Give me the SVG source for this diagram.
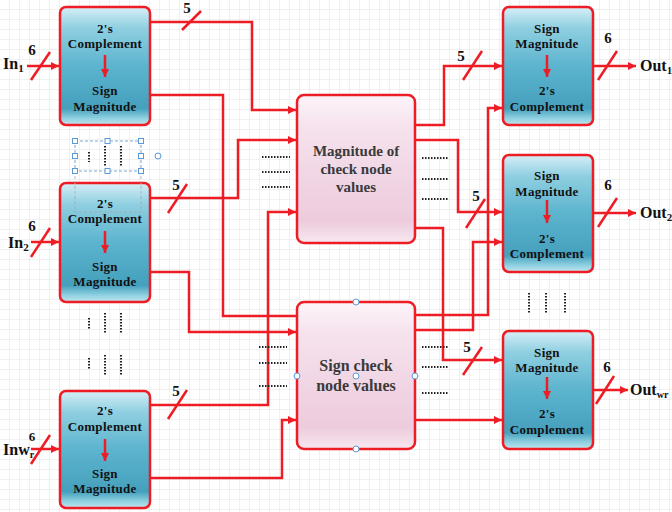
<svg xmlns="http://www.w3.org/2000/svg" width="672" height="512" viewBox="0 0 672 512">
<defs>
<pattern id="grid" width="10" height="10" patternUnits="userSpaceOnUse">
<path d="M10,0 V10 H0" fill="none" stroke="#e2e2e2" stroke-width="1"/>
</pattern>
<linearGradient id="teal" x1="0" y1="0" x2="0" y2="1">
<stop offset="0" stop-color="#d6eff6"/>
<stop offset="0.18" stop-color="#8fcfe1"/>
<stop offset="0.5" stop-color="#5cb4ce"/>
<stop offset="0.86" stop-color="#45a0bd"/>
<stop offset="0.94" stop-color="#8ccfe0"/>
<stop offset="1" stop-color="#c3e6ef"/>
</linearGradient>
<linearGradient id="pink" x1="0" y1="0" x2="0" y2="1">
<stop offset="0" stop-color="#fcf5f9"/>
<stop offset="0.2" stop-color="#f6e3ee"/>
<stop offset="0.85" stop-color="#edcbdd"/>
<stop offset="1" stop-color="#f7e8f0"/>
</linearGradient>
<marker id="ah" viewBox="0 0 10 10" refX="10" refY="5" markerWidth="9" markerHeight="8" markerUnits="userSpaceOnUse" orient="auto">
<path d="M0,0 L10,5 L0,10 z" fill="#ee1c24"/>
</marker>
</defs>
<style>
.blk{fill:url(#teal);stroke:#ee1c24;stroke-width:2.5}
.mid{fill:url(#pink);stroke:#ee1c24;stroke-width:2.5}
.w{fill:none;stroke:#ee1c24;stroke-width:2.5}
.wa{fill:none;stroke:#ee1c24;stroke-width:2.5;marker-end:url(#ah)}
.sl{stroke:#ee1c24;stroke-width:2.5}
.t{font-family:"Liberation Serif","Times New Roman",serif;font-weight:bold;font-size:13px;fill:#111;text-anchor:middle;letter-spacing:0.3px}
.mt{font-family:"Liberation Serif","Times New Roman",serif;font-weight:bold;fill:#3a3a3a;text-anchor:middle}
.n{font-family:"Liberation Serif","Times New Roman",serif;font-weight:bold;font-size:15px;fill:#111;text-anchor:middle}
.lb{font-family:"Liberation Serif","Times New Roman",serif;font-weight:bold;font-size:16px;fill:#111}
.dot{stroke:#222;stroke-width:2;stroke-dasharray:1.5 1.5;fill:none}
.h{fill:#fff;stroke:#5b9bd5;stroke-width:1}
</style>
<rect width="672" height="512" fill="#fff"/>
<rect width="672" height="512" fill="url(#grid)"/>

<g id="connectors">
<path class="wa" d="M150,22 H252 V110 H296"/>
<path class="w" d="M150,95 H223 V316 H297"/>
<path class="wa" d="M150,198 H238 V140 H296"/>
<path class="wa" d="M150,272 H189 V332 H296"/>
<path class="wa" d="M150,405 H268 V212 H296"/>
<path class="wa" d="M150,478 H282 V420 H296"/>
<path class="wa" d="M415,125 H444 V66 H502"/>
<path class="wa" d="M415,140 H458 V212 H502"/>
<path class="wa" d="M415,228 H443 V360 H502"/>
<path class="wa" d="M415,315 H488 V108 H502"/>
<path class="wa" d="M415,330 H473 V242 H502"/>
<path class="wa" d="M415,420 H502"/>
<path class="wa" d="M27,66 H59"/>
<path class="wa" d="M31,242 H59"/>
<path class="wa" d="M31,449 H59"/>
<path class="wa" d="M593,66 H636"/>
<path class="wa" d="M593,213 H636"/>
<path class="wa" d="M593,390 H628"/>
<line class="sl" x1="182" y1="30" x2="201" y2="11"/>
<line class="sl" x1="168" y1="213" x2="187" y2="184"/>
<line class="sl" x1="168" y1="419" x2="187" y2="390"/>
<line class="sl" x1="463" y1="80" x2="482" y2="51"/>
<line class="sl" x1="466" y1="228" x2="485" y2="199"/>
<line class="sl" x1="463" y1="375" x2="482" y2="347"/>
<line class="sl" x1="31" y1="80" x2="50" y2="52"/>
<line class="sl" x1="31" y1="257" x2="50" y2="228"/>
<line class="sl" x1="31" y1="464" x2="50" y2="435"/>
<line class="sl" x1="598" y1="80" x2="617" y2="51"/>
<line class="sl" x1="598" y1="227" x2="617" y2="198"/>
<line class="sl" x1="596" y1="404" x2="614" y2="376"/>
<text class="n" x="187" y="13">5</text>
<text class="n" x="176" y="190">5</text>
<text class="n" x="176" y="396">5</text>
<text class="n" x="461" y="61">5</text>
<text class="n" x="476" y="201">5</text>
<text class="n" x="467" y="352">5</text>
<text class="n" x="32" y="55">6</text>
<text class="n" x="32" y="231">6</text>
<text class="n" x="32" y="441" style="font-size:13px">6</text>
<text class="n" x="608" y="43">6</text>
<text class="n" x="608" y="190">6</text>
<text class="n" x="607" y="372">6</text>
</g>

<g id="labels">
<text class="lb" x="3" y="69">In<tspan font-size="11" dy="3">1</tspan></text>
<text class="lb" x="8" y="248">In<tspan font-size="11" dy="3">2</tspan></text>
<text class="lb" x="3" y="455">Inw<tspan font-size="10" dy="3">r</tspan></text>
<text class="lb" x="640" y="71">Out<tspan font-size="11" dy="3">1</tspan></text>
<text class="lb" x="640" y="218">Out<tspan font-size="11" dy="3">2</tspan></text>
<text class="lb" x="630" y="395">Out<tspan font-size="10" dy="3">wr</tspan></text>
</g>

<g id="in1">
<rect class="blk" x="60" y="7" width="90" height="118" rx="6"/>
<text class="t" x="105" y="33">2's</text>
<text class="t" x="105" y="48">Complement</text>
<path class="wa" d="M105,55 V77"/>
<text class="t" x="105" y="95">Sign</text>
<text class="t" x="105" y="111">Magnitude</text>
</g>
<g id="in2">
<rect class="blk" x="60" y="183" width="90" height="119" rx="6"/>
<text class="t" x="105" y="208">2's</text>
<text class="t" x="105" y="223">Complement</text>
<path class="wa" d="M105,231 V253"/>
<text class="t" x="105" y="271">Sign</text>
<text class="t" x="105" y="286">Magnitude</text>
</g>
<g id="inwr">
<rect class="blk" x="60" y="391" width="90" height="117" rx="6"/>
<text class="t" x="105" y="415">2's</text>
<text class="t" x="105" y="431">Complement</text>
<path class="wa" d="M105,439 V461"/>
<text class="t" x="105" y="478">Sign</text>
<text class="t" x="105" y="493">Magnitude</text>
</g>

<g id="magnitude">
<rect class="mid" x="297" y="95" width="118" height="148" rx="7"/>
<text class="mt" x="356" y="156" font-size="15">Magnitude of</text>
<text class="mt" x="356" y="174" font-size="15">check node</text>
<text class="mt" x="356" y="192" font-size="15">values</text>
</g>
<g id="sign">
<rect class="mid" x="297" y="302" width="118" height="147" rx="7"/>
<text class="mt" x="356" y="371" font-size="16">Sign check</text>
<text class="mt" x="356" y="391" font-size="16">node values</text>
<circle class="h" cx="356" cy="302" r="3"/>
<circle class="h" cx="356" cy="449" r="3"/>
<circle class="h" cx="297" cy="376" r="3"/>
<circle class="h" cx="415" cy="376" r="3"/>
<circle class="h" cx="356" cy="376" r="3"/>
</g>

<g id="out1">
<rect class="blk" x="503" y="7" width="90" height="118" rx="6"/>
<text class="t" x="547" y="33">Sign</text>
<text class="t" x="547" y="48">Magnitude</text>
<path class="wa" d="M547,55 V77"/>
<text class="t" x="547" y="95">2's</text>
<text class="t" x="547" y="111">Complement</text>
</g>
<g id="out2">
<rect class="blk" x="503" y="155" width="90" height="117" rx="6"/>
<text class="t" x="547" y="180">Sign</text>
<text class="t" x="547" y="196">Magnitude</text>
<path class="wa" d="M547,200 V223"/>
<text class="t" x="547" y="243">2's</text>
<text class="t" x="547" y="258">Complement</text>
</g>
<g id="outwr">
<rect class="blk" x="503" y="331" width="90" height="118" rx="6"/>
<text class="t" x="547" y="357">Sign</text>
<text class="t" x="547" y="372">Magnitude</text>
<path class="wa" d="M547,377 V399"/>
<text class="t" x="547" y="418">2's</text>
<text class="t" x="547" y="434">Complement</text>
</g>

<g id="ellipses">
<line class="dot" x1="89" y1="152" x2="89" y2="162"/>
<line class="dot" x1="105" y1="146" x2="105" y2="166"/>
<line class="dot" x1="121" y1="146" x2="121" y2="166"/>
<line class="dot" x1="89" y1="318" x2="89" y2="330"/>
<line class="dot" x1="105" y1="313" x2="105" y2="333"/>
<line class="dot" x1="121" y1="313" x2="121" y2="333"/>
<line class="dot" x1="89" y1="358" x2="89" y2="370"/>
<line class="dot" x1="105" y1="355" x2="105" y2="375"/>
<line class="dot" x1="121" y1="355" x2="121" y2="375"/>
<line class="dot" x1="529" y1="293" x2="529" y2="314"/>
<line class="dot" x1="546" y1="293" x2="546" y2="314"/>
<line class="dot" x1="565" y1="293" x2="565" y2="314"/>
<line class="dot" x1="262" y1="157" x2="290" y2="157"/>
<line class="dot" x1="262" y1="172" x2="290" y2="172"/>
<line class="dot" x1="262" y1="187" x2="290" y2="187"/>
<line class="dot" x1="422" y1="158" x2="449" y2="158"/>
<line class="dot" x1="422" y1="179" x2="449" y2="179"/>
<line class="dot" x1="422" y1="199" x2="449" y2="199"/>
<line class="dot" x1="259" y1="347" x2="287" y2="347"/>
<line class="dot" x1="259" y1="363" x2="287" y2="363"/>
<line class="dot" x1="259" y1="386" x2="287" y2="386"/>
<line class="dot" x1="422" y1="347" x2="449" y2="347"/>
<line class="dot" x1="422" y1="367" x2="449" y2="367"/>
<line class="dot" x1="422" y1="393" x2="449" y2="393"/>
</g>

<g id="selection">
<rect x="75" y="141" width="66" height="30" fill="none" stroke="#7fa7d6" stroke-width="1" stroke-dasharray="3 2"/>
<path d="M75,171 V212 H141 V171" fill="none" stroke="#a8a8a8" stroke-width="0.8" stroke-dasharray="3 2"/>
<rect class="h" x="72.5" y="138.5" width="5" height="5"/>
<rect class="h" x="105" y="138.5" width="5" height="5"/>
<rect class="h" x="138.5" y="138.5" width="5" height="5"/>
<rect class="h" x="72.5" y="153.5" width="5" height="5"/>
<rect class="h" x="138.5" y="153.5" width="5" height="5"/>
<rect class="h" x="72.5" y="168.5" width="5" height="5"/>
<rect class="h" x="105" y="168.5" width="5" height="5"/>
<rect class="h" x="138.5" y="168.5" width="5" height="5"/>
<circle cx="158" cy="156" r="3" fill="none" stroke="#5b9bd5" stroke-width="1"/>
</g>
</svg>
